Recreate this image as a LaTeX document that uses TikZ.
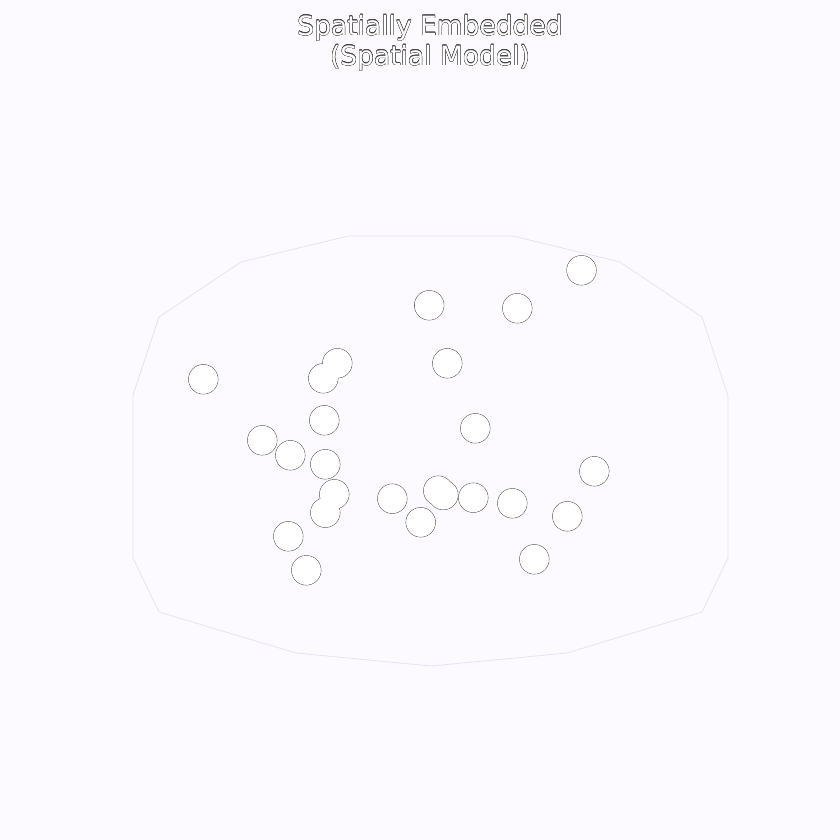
\documentclass[tikz,border=0pt]{standalone}
\usepackage{fontspec}
\setmainfont{DejaVu Sans}
\usepackage[copies]{contour}
\usepackage{tikz}
\usetikzlibrary{positioning}
\contourlength{0.3pt}
\contournumber{16}
\definecolor{PageColor}{RGB}{252,250,254}
\definecolor{HullColor}{RGB}{230,226,244}
\definecolor{RimColor}{RGB}{70,70,70}
\tikzset{
  site/.style={circle, draw=RimColor, line width=0.55pt, fill=white, minimum size=29.5pt, inner sep=0pt},
  hull/.style={draw=HullColor, line width=0.8pt}
}

\begin{document}
\begin{tikzpicture}[x=1pt, y=-1pt]
      \fill[PageColor] (0,0) rectangle (840,840);
      \useasboundingbox (0,0) rectangle (840,840);
      % outer boundary
      \draw[hull] (348,236) -- (513,236) -- (620,262) -- (702,317) -- (728,396) -- (728,558) -- (702,612) -- (567,653) -- (431,666) -- (296,653) -- (159,612) -- (133,558) -- (133,395) -- (159,317) -- (241,262) -- cycle;
      % title
      \node[text=white, align=center, font=\fontsize{26.5}{30}\selectfont] (title) at (430,43) {\contour{RimColor}{Spatially Embedded}\\\contour{RimColor}{(Spatial Model)}};
      % sites
      \foreach \px/\py [count=\i] in {581.5/270.3, 429.2/305.3, 517.3/308.3, 337.3/363.3, 323.3/378.3, 447.3/363.3, 203.3/379.3, 324.3/420.3, 475.3/428.3, 262.3/440.3, 290.3/455.3, 325.3/464.3, 594.3/471.3, 334.3/494.3, 325.3/512.7, 392.3/498.7, 438.3/490.7, 443.3/495.0, 473.3/497.7, 512.3/503.3, 420.7/522.3, 567.3/516.3, 288.3/536.3, 534.3/559.3, 306.3/570.3}
        \node[site] (s\i) at (\px,\py) {};
      % overlapping sites merge
      \foreach \i in {1,...,25}
        \fill[white] (s\i.center) circle (14.45pt);
    \end{tikzpicture}
\end{document}
